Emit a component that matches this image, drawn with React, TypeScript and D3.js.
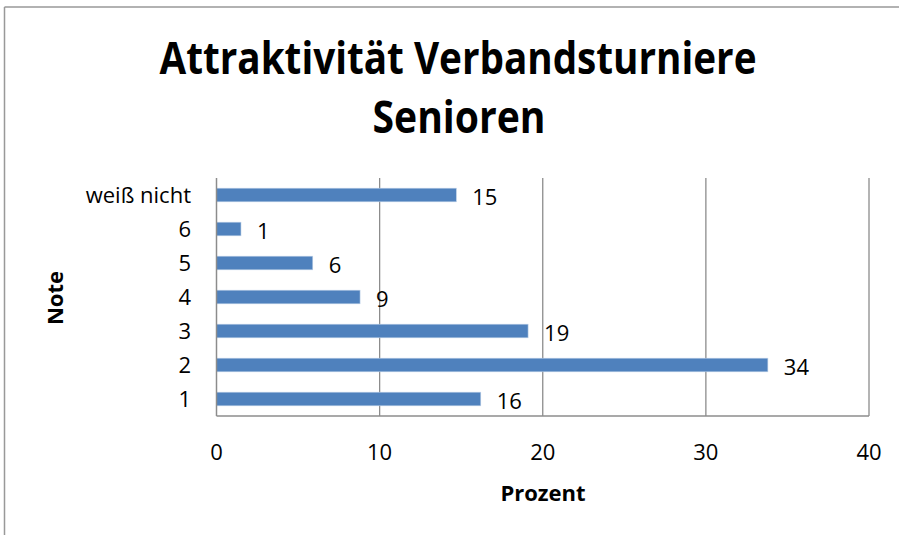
import React from "react";
import * as d3 from "d3";

const categories = ["weiß nicht", "6", "5", "4", "3", "2", "1"];
const values = [14.7, 1.5, 5.9, 8.8, 19.1, 33.8, 16.2];
const valueLabels = ["15", "1", "6", "9", "19", "34", "16"];
const xTicks = [0, 10, 20, 30, 40];
const titleLines = ["Attraktivität Verbandsturniere", "Senioren"];
const xTitle = "Prozent";
const yTitle = "Note";

const W = 899;
const H = 535;
const FONT = "'Open Sans', 'Liberation Sans', sans-serif";

export default function App() {
  const x = d3.scaleLinear().domain([0, 40]).range([216.5, 869]);
  const y = d3.scaleBand<string>().domain(categories).range([178, 416]).paddingInner(0.6).paddingOuter(0.3);
  const grid = "#8c8c8c";
  return (
    <svg width={W} height={H} style={{ position: "absolute", left: 0, top: 0, background: "#fff" }} fontFamily={FONT}>
      <rect x={0} y={0} width={W} height={H} fill="#fff" />
      {/* frame */}
      <line x1={4.5} y1={7} x2={W} y2={7} stroke="#999" strokeWidth={1.5} />
      <line x1={4.5} y1={7} x2={4.5} y2={H} stroke="#999" strokeWidth={1.5} />
      {/* title */}
      <text x={458} y={74} textAnchor="middle" fontWeight="bold" fontSize={44} fill="#000" textLength={597} lengthAdjust="spacingAndGlyphs">
        {titleLines[0]}
      </text>
      <text x={459} y={133} textAnchor="middle" fontWeight="bold" fontSize={44} fill="#000" textLength={173} lengthAdjust="spacingAndGlyphs">
        {titleLines[1]}
      </text>
      {/* gridlines */}
      {xTicks.slice(1).map((t) => (
        <line key={t} x1={x(t)} x2={x(t)} y1={178} y2={416} stroke={grid} strokeWidth={1.3} />
      ))}
      {/* bars */}
      {categories.map((c, i) => (
        <rect key={c} x={x(0)} y={y(c)!} width={x(values[i]) - x(0)} height={y.bandwidth()} fill="#4F81BD" stroke="#B9CDE5" strokeWidth={0.6} />
      ))}
      {/* axes */}
      <line x1={x(0)} x2={x(0)} y1={178} y2={416} stroke={grid} strokeWidth={1.5} />
      <line x1={x(0)} x2={x(40)} y1={416} y2={416} stroke={grid} strokeWidth={1.5} />
      {/* data labels */}
      {categories.map((c, i) => (
        <text key={c} x={x(values[i]) + 16} y={y(c)! + y.bandwidth() / 2 + 9.5} fontSize={22} fill="#000">
          {valueLabels[i]}
        </text>
      ))}
      {/* category labels */}
      {categories.map((c) => (
        <text key={c} x={191} y={y(c)! + y.bandwidth() / 2 + 7.5} fontSize={22} textAnchor="end" fill="#000">
          {c}
        </text>
      ))}
      {/* tick labels */}
      {xTicks.map((t) => (
        <text key={t} x={x(t)} y={460} fontSize={22} textAnchor="middle" fill="#000">
          {t}
        </text>
      ))}
      <text x={543} y={501} fontSize={22} fontWeight="bold" textAnchor="middle" fill="#000">
        {xTitle}
      </text>
      <text transform="translate(63,298) rotate(-90)" fontSize={22} fontWeight="bold" textAnchor="middle" fill="#000">
        {yTitle}
      </text>
    </svg>
  );
}
